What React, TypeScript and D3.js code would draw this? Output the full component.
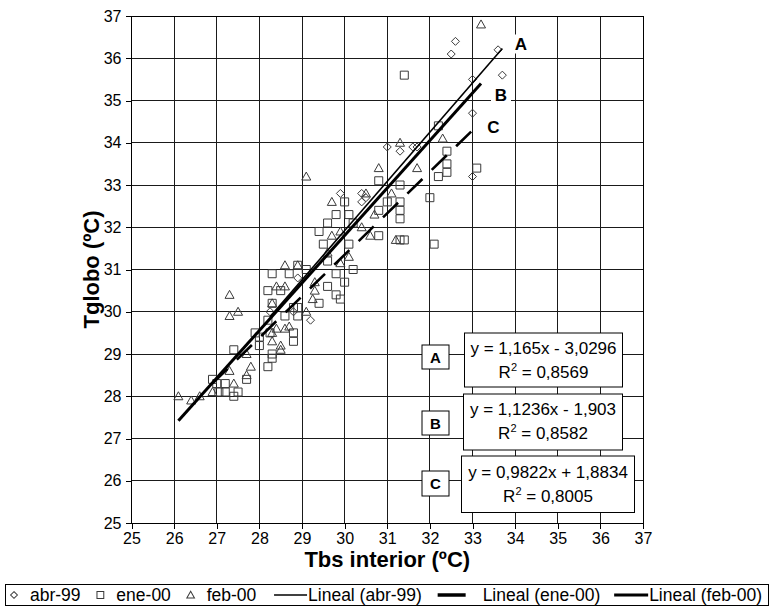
import React, { useEffect, useRef } from "react";
import * as d3 from "d3";

// ---------- DATA ----------
const abr99: [number, number][] = [
  [33.6, 36.2], [32.6, 36.4], [32.5, 36.1], [33.7, 35.6], [33.0, 35.5], [33.0, 34.7], [33.0, 33.2],
  [31.0, 33.9], [31.3, 33.8], [31.6, 33.9], [31.7, 33.9], [29.9, 32.8], [30.4, 32.8], [30.4, 32.6],
  [30.5, 32.7], [28.9, 30.8], [29.2, 29.8], [28.8, 30.0], [28.25, 30.0],
];

const ene00: [number, number][] = [
  [31.4, 35.6], [33.1, 33.4], [32.1, 31.6], [32.0, 32.7], [32.2, 34.4], [32.4, 33.8], [32.4, 33.5],
  [32.4, 33.3], [32.2, 33.2], [31.3, 33.0], [31.3, 32.6], [31.3, 32.4], [31.3, 32.2], [31.0, 32.6],
  [30.8, 33.1], [30.8, 32.4], [30.8, 31.8], [31.4, 31.7], [31.3, 31.7], [30.0, 32.6], [29.8, 32.3],
  [30.1, 32.3], [29.6, 32.1], [30.2, 32.1], [29.4, 31.9], [29.5, 31.6], [30.1, 31.6], [29.6, 31.2],
  [30.2, 31.0], [29.8, 30.9], [30.0, 30.7], [29.6, 30.6], [29.8, 30.4], [29.9, 30.3], [29.4, 30.2],
  [29.1, 31.0], [28.3, 30.9], [28.7, 30.9], [28.9, 31.1], [28.2, 30.5], [28.5, 30.5], [28.3, 30.2],
  [28.8, 30.1], [28.9, 30.1], [28.6, 29.9], [28.2, 29.8], [28.9, 29.9], [28.8, 29.5], [28.8, 29.3],
  [28.0, 29.4], [28.0, 29.2], [27.9, 29.5], [28.25, 29.5], [28.3, 29.0], [28.3, 28.9], [28.2, 28.7],
  [27.4, 29.1], [27.7, 28.4], [26.9, 28.4], [27.0, 28.3], [27.2, 28.3], [27.05, 28.1], [27.2, 28.1],
  [27.4, 28.0], [27.5, 28.1],
];

const feb00: [number, number][] = [
  [33.2, 36.8], [31.3, 34.0], [32.3, 34.1], [31.7, 33.4], [31.1, 32.8], [31.2, 31.7], [29.1, 33.2],
  [29.7, 32.6], [30.8, 33.4], [30.7, 32.3], [30.4, 32.0], [29.9, 31.9], [29.7, 31.8], [30.6, 31.8],
  [29.6, 31.4], [29.9, 31.15], [30.1, 31.3], [30.5, 32.8], [26.1, 28.0], [26.4, 27.9], [26.6, 28.0],
  [26.9, 28.1], [27.3, 28.6], [27.4, 28.3], [27.7, 28.5], [27.8, 28.7], [27.7, 29.0], [27.3, 30.4],
  [27.5, 30.0], [27.3, 29.9], [28.6, 31.1], [28.9, 31.1], [28.4, 30.6], [28.6, 30.6], [28.3, 30.2],
  [29.3, 30.7], [29.3, 30.5], [29.25, 30.3], [29.1, 30.0], [28.4, 29.6], [28.6, 29.6], [28.3, 29.5],
  [28.3, 29.3], [28.5, 29.2], [28.5, 29.1], [28.7, 29.65],
];

// trendlines (A: abr-99 thin, B: feb-00 thick, C: ene-00 dashed)
const trendLabels = ["A", "B", "C"];
const trendSlopes = [1.165, 1.1236, 0.9822];
const trendIntercepts = [-3.0296, -1.903, 1.8834];
const trendXStart = [28.25, 26.1, 26.9];
const trendXEnd = [33.7, 33.2, 33.1];
const eqTexts = ["y = 1,165x - 3,0296", "y = 1,1236x - 1,903", "y = 0,9822x + 1,8834"];
const r2Texts = ["0,8569", "0,8582", "0,8005"];

const xTickValues = d3.range(25, 38, 1);
const yTickValues = d3.range(25, 38, 1);

const legendLabels = ["abr-99", "ene-00", "feb-00", "Lineal (abr-99)", "Lineal (ene-00)", "Lineal (feb-00)"];

const FONT = "'Liberation Sans', Arial, sans-serif";

export default function App() {
  const ref = useRef<SVGSVGElement>(null);

  useEffect(() => {
    const svg = d3.select(ref.current);
    svg.selectAll("*").remove();

    const x = d3.scaleLinear().domain([25, 37]).range([131.5, 643]);
    const y = d3.scaleLinear().domain([25, 37]).range([523, 16]);

    svg.append("rect").attr("width", 773).attr("height", 615).attr("fill", "#fff");

    // grid
    const grid = svg.append("g").attr("stroke", "#1a1a1a").attr("stroke-width", 1).attr("shape-rendering", "crispEdges");
    xTickValues.forEach((v) => {
      grid.append("line").attr("x1", x(v)).attr("x2", x(v)).attr("y1", y(37)).attr("y2", y(25));
    });
    yTickValues.forEach((v) => {
      grid.append("line").attr("x1", x(25)).attr("x2", x(37)).attr("y1", y(v)).attr("y2", y(v));
    });
    svg.append("rect")
      .attr("x", x(25)).attr("y", y(37)).attr("width", x(37) - x(25)).attr("height", y(25) - y(37))
      .attr("fill", "none").attr("stroke", "#000").attr("stroke-width", 1).attr("shape-rendering", "crispEdges");

    // axes
    const xAxis = d3.axisBottom(x).tickValues(xTickValues).tickSize(6).tickPadding(4).tickFormat(d3.format("d"));
    const gx = svg.append("g").attr("transform", `translate(0,${y(25)})`).call(xAxis);
    const yAxis = d3.axisLeft(y).tickValues(yTickValues).tickSize(6).tickPadding(4).tickFormat(d3.format("d"));
    const gy = svg.append("g").attr("transform", `translate(${x(25)},0)`).call(yAxis);
    [gx, gy].forEach((g) => {
      g.select(".domain").remove();
      g.selectAll("line").attr("stroke", "#000").attr("shape-rendering", "crispEdges");
      g.selectAll("text").attr("font-family", FONT).attr("font-size", 16).attr("fill", "#000");
    });

    // axis titles
    svg.append("text").attr("x", (x(25) + x(37)) / 2).attr("y", 567).attr("text-anchor", "middle")
      .attr("font-family", FONT).attr("font-size", 22).attr("font-weight", "bold").text("Tbs interior (ºC)");
    svg.append("text").attr("transform", `translate(99,${(y(25) + y(37)) / 2}) rotate(-90)`).attr("text-anchor", "middle")
      .attr("font-family", FONT).attr("font-size", 22).attr("font-weight", "bold").text("Tglobo (ºC)");

    // markers
    const diamond = "M0,-4L4,0L0,4L-4,0Z";
    const square = "M-4,-4H4V4H-4Z";
    const triangle = "M0,-4.5L4.5,3.5H-4.5Z";
    const series: [[number, number][], string][] = [[abr99, diamond], [ene00, square], [feb00, triangle]];
    const pts = svg.append("g").attr("fill", "none").attr("stroke", "#3a3a3a").attr("stroke-width", 1);
    series.forEach(([data, shape]) => {
      pts.selectAll(null).data(data).enter().append("path")
        .attr("d", shape).attr("transform", (d) => `translate(${x(d[0])},${y(d[1])})`);
    });

    // trendlines
    const styles = [
      { w: 1.6, dash: null },
      { w: 3, dash: null },
      { w: 2.6, dash: "21,13" },
    ];
    trendSlopes.forEach((m, i) => {
      const b = trendIntercepts[i];
      const xs = [trendXStart[i], trendXEnd[i]];
      const gen = d3.line<number>().x((v) => x(v)).y((v) => y(m * v + b));
      const p = svg.append("path").attr("d", gen(xs)).attr("fill", "none").attr("stroke", "#000")
        .attr("stroke-width", styles[i].w);
      if (styles[i].dash) p.attr("stroke-dasharray", styles[i].dash);
    });

    // line-end labels with white background
    const labelPos = [[521, 49.5], [501, 101], [493.5, 133]];
    trendLabels.forEach((t, i) => {
      const [lx, ly] = labelPos[i];
      if (i < 2) svg.append("rect").attr("x", lx - 10).attr("y", ly - 15).attr("width", 20).attr("height", 19).attr("fill", "#fff");
      svg.append("text").attr("x", lx).attr("y", ly).attr("text-anchor", "middle").attr("font-family", FONT)
        .attr("font-size", 17).attr("font-weight", "bold").text(t);
    });

    // equation boxes and letter boxes
    const eqBoxes = [
      { x0: 464.5, x1: 622.5, y0: 333, y1: 387, b1: 353.5, lb: [422, 345, 449, 369] },
      { x0: 463.5, x1: 622.5, y0: 394, y1: 450, b1: 415, lb: [422, 411, 449, 435] },
      { x0: 461.5, x1: 634.5, y0: 456, y1: 512.5, b1: 477.5, lb: [422, 471, 449, 496] },
    ];
    eqBoxes.forEach((bx, i) => {
      svg.append("rect").attr("x", bx.x0).attr("y", bx.y0).attr("width", bx.x1 - bx.x0).attr("height", bx.y1 - bx.y0)
        .attr("fill", "#fff").attr("stroke", "#000").attr("stroke-width", 1);
      const cx = (bx.x0 + bx.x1) / 2;
      svg.append("text").attr("x", cx).attr("y", bx.b1).attr("text-anchor", "middle").attr("font-family", FONT)
        .attr("font-size", 17).text(eqTexts[i]);
      const t2 = svg.append("text").attr("x", cx).attr("y", bx.b1 + 24).attr("text-anchor", "middle")
        .attr("font-family", FONT).attr("font-size", 17);
      t2.append("tspan").text("R");
      t2.append("tspan").attr("dy", -7).attr("font-size", 11).text("2");
      t2.append("tspan").attr("dy", 7).text(" = " + r2Texts[i]);
      const [a, b, c, d] = bx.lb;
      svg.append("rect").attr("x", a).attr("y", b).attr("width", c - a).attr("height", d - b)
        .attr("fill", "#fff").attr("stroke", "#000").attr("stroke-width", 1);
      svg.append("text").attr("x", (a + c) / 2).attr("y", (b + d) / 2 + 5.5).attr("text-anchor", "middle")
        .attr("font-family", FONT).attr("font-size", 15).attr("font-weight", "bold").text(trendLabels[i]);
    });

    // legend
    const lg = svg.append("g");
    const lx0 = 5, lx1 = 768, ly0 = 584, ly1 = 605;
    lg.append("rect").attr("x", lx0 + 0.5).attr("y", ly0 + 0.5).attr("width", lx1 - lx0).attr("height", ly1 - ly0)
      .attr("fill", "#fff").attr("stroke", "#000").attr("stroke-width", 1);
    const LFS = 17.5;
    const canvas = document.createElement("canvas");
    const ctx = canvas.getContext("2d")!;
    ctx.font = `${LFS}px 'Liberation Sans', Arial, sans-serif`;
    const keyW = [22, 22, 22, 34, 45, 35];
    const lead = [0, 0, 0, 4, 2, 0];
    const widths = legendLabels.map((l, i) => lead[i] + keyW[i] + ctx.measureText(l).width);
    const total = d3.sum(widths);
    const startX = 8;
    const endX = 762;
    const gap = (endX - startX - total) / (legendLabels.length - 1);
    let cur = startX;
    const cy = (ly0 + ly1) / 2 + 0.5;
    legendLabels.forEach((l, i) => {
      const k = cur + lead[i];
      if (i < 3) {
        const shape = [diamond, square, triangle][i];
        lg.append("path").attr("d", shape).attr("transform", `translate(${k + 6},${cy}) scale(0.85)`)
          .attr("fill", "none").attr("stroke", "#3a3a3a").attr("stroke-width", 1.2);
      } else if (i === 3) {
        lg.append("line").attr("x1", k).attr("x2", k + 33).attr("y1", cy).attr("y2", cy).attr("stroke", "#000").attr("stroke-width", 1.6);
      } else if (i === 4) {
        lg.append("line").attr("x1", k).attr("x2", k + 28).attr("y1", cy).attr("y2", cy).attr("stroke", "#000").attr("stroke-width", 3.5);
      } else {
        lg.append("line").attr("x1", k).attr("x2", k + 34).attr("y1", cy).attr("y2", cy).attr("stroke", "#000").attr("stroke-width", 3);
      }
      lg.append("text").attr("x", k + keyW[i]).attr("y", cy + 6.3).attr("font-family", FONT).attr("font-size", LFS).text(l);
      cur += widths[i] + gap;
    });
  }, []);

  return (
    <svg ref={ref} width={773} height={615} style={{ position: "absolute", left: 0, top: 0 }} />
  );
}
